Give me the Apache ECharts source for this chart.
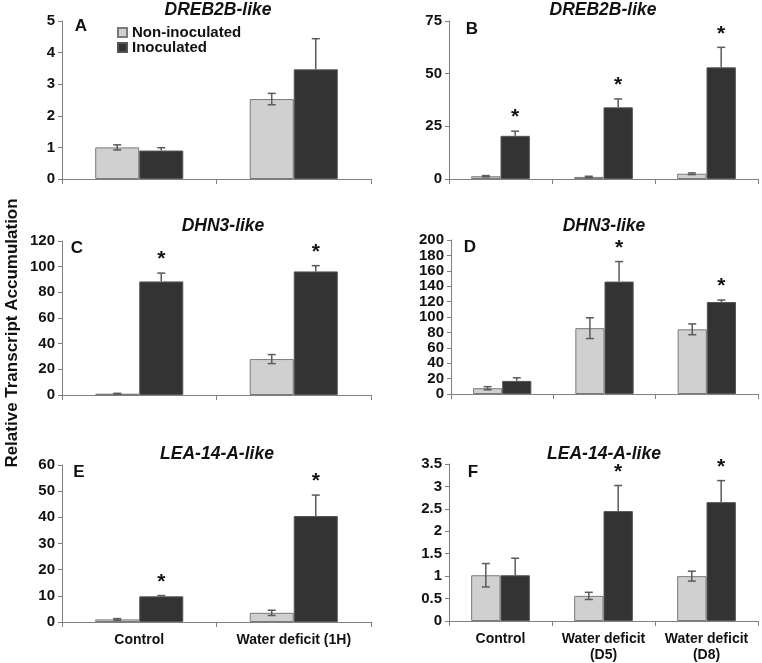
<!DOCTYPE html>
<html>
<head>
<meta charset="utf-8">
<script src="https://cdn.jsdelivr.net/npm/echarts@6/dist/echarts.min.js"></script>
<style>html,body{margin:0;padding:0;background:#fff}#c{width:762px;height:663px}</style>
</head>
<body>
<div id="c"></div>
<script>
// ---- Data ----
const cats2 = ['Control', 'Water deficit (1H)'];
const cats3 = ['Control', 'Water deficit\n(D5)', 'Water deficit\n(D8)'];
const seriesNames = ['Non-inoculated', 'Inoculated'];
const geneTitles = ['DREB2B-like', 'DREB2B-like', 'DHN3-like', 'DHN3-like', 'LEA-14-A-like', 'LEA-14-A-like'];
const panelLetters = ['A', 'B', 'C', 'D', 'E', 'F'];

// Panel A
const nonA = [1.0, 2.53];   const nonAErr = [0.08, 0.18];
const inocA = [0.9, 3.47];  const inocAErr = [0.09, 0.97];
const sigA = [0, 0];
// Panel B
const nonB = [1.3, 1.0, 2.5];   const nonBErr = [0.3, 0.3, 0.4];
const inocB = [20.5, 34, 53];   const inocBErr = [2.2, 4, 9.5];
const sigB = [1, 1, 1];
// Panel C
const nonC = [1.0, 28];     const nonCErr = [0.3, 3.5];
const inocC = [88.5, 96.3]; const inocCErr = [6.5, 4.5];
const sigC = [1, 1];
// Panel D
const nonD = [7.5, 85.5, 84];   const nonDErr = [2, 13.5, 7];
const inocD = [17, 146, 119.5]; const inocDErr = [4, 26, 2.5];
const sigD = [0, 1, 1];
// Panel E
const nonE = [1.0, 3.5];    const nonEErr = [0.3, 1.0];
const inocE = [9.8, 40.5];  const inocEErr = [0.3, 8];
const sigE = [1, 1];
// Panel F
const nonF = [1.02, 0.56, 1.0];  const nonFErr = [0.26, 0.08, 0.11];
const inocF = [1.02, 2.45, 2.65]; const inocFErr = [0.38, 0.57, 0.48];
const sigF = [0, 1, 1];

// y-axis ranges
const yMax = [5, 75, 120, 200, 60, 3.5];
const yInt = [1, 25, 20, 20, 10, 0.5];

// ---- Layout ----
const grids = [
  {left: 62, top: 21, width: 309, height: 158},
  {left: 449, top: 21, width: 309, height: 158},
  {left: 62, top: 241, width: 309, height: 154},
  {left: 451, top: 240, width: 307, height: 154},
  {left: 62, top: 465, width: 309, height: 157},
  {left: 449, top: 464, width: 309, height: 158}
];
const panels = [
  {cats: cats2, non: nonA, nonE: nonAErr, inoc: inocA, inocE: inocAErr, sig: sigA, showX: false},
  {cats: cats3, non: nonB, nonE: nonBErr, inoc: inocB, inocE: inocBErr, sig: sigB, showX: false},
  {cats: cats2, non: nonC, nonE: nonCErr, inoc: inocC, inocE: inocCErr, sig: sigC, showX: false},
  {cats: cats3, non: nonD, nonE: nonDErr, inoc: inocD, inocE: inocDErr, sig: sigD, showX: false},
  {cats: cats2, non: nonE, nonE: nonEErr, inoc: inocE, inocE: inocEErr, sig: sigE, showX: true},
  {cats: cats3, non: nonF, nonE: nonFErr, inoc: inocF, inocE: inocFErr, sig: sigF, showX: true}
];

const GAP = 0.43;
const LIGHT = '#d0d0d0', DARK = '#333333';
const AXIS_COLOR = '#808080';
const ERR_COLOR = '#5a5a5a';

function errRender(side, full) {
  return function (params, api) {
    const ci = api.value(0), mean = api.value(1), err = api.value(2), sig = api.value(3);
    const band = api.size([1, 0])[0];
    const bw = band * (1 - GAP) / 2;
    const center = api.coord([ci, 0])[0];
    const x = center + side * bw / 2;
    const yTop = api.coord([ci, mean + err])[1];
    const yMid = api.coord([ci, mean])[1];
    const yLow = api.coord([ci, mean - err])[1];
    const cap = 4;
    const st = {stroke: ERR_COLOR, lineWidth: 1.5};
    const children = [
      {type: 'line', shape: {x1: x, y1: full ? yLow : yMid, x2: x, y2: yTop}, style: st},
      {type: 'line', shape: {x1: x - cap, y1: yTop, x2: x + cap, y2: yTop}, style: st}
    ];
    if (full) children.push({type: 'line', shape: {x1: x - cap, y1: yLow, x2: x + cap, y2: yLow}, style: st});
    if (sig) {
      children.push({type: 'text', style: {text: '*', x: x, y: yTop - 3, align: 'center', verticalAlign: 'bottom',
        textAlign: 'center', textVerticalAlign: 'bottom', font: 'bold 21px Arial, "Liberation Sans"', fill: '#111'}});
    }
    return {type: 'group', children: children};
  };
}

const gridOpts = [], xAxes = [], yAxes = [], series = [];
panels.forEach((p, i) => {
  gridOpts.push(Object.assign({containLabel: false}, grids[i]));
  xAxes.push({
    type: 'category', gridIndex: i, data: p.cats,
    axisLine: {lineStyle: {color: AXIS_COLOR, width: 1}},
    axisTick: {show: true, length: 5, lineStyle: {color: AXIS_COLOR}},
    axisLabel: {show: p.showX, color: '#111', fontWeight: 'bold', fontSize: 14, fontFamily: 'Arial, "Liberation Sans"', lineHeight: 16, margin: 10, interval: 0},
    splitLine: {show: false}
  });
  yAxes.push({
    type: 'value', gridIndex: i, min: 0, max: yMax[i], interval: yInt[i],
    axisLine: {show: true, lineStyle: {color: AXIS_COLOR, width: 1}},
    axisTick: {show: true, length: 4, lineStyle: {color: AXIS_COLOR}},
    axisLabel: {color: '#111', fontWeight: 'bold', fontSize: 15, fontFamily: 'Arial, "Liberation Sans"', margin: 7},
    splitLine: {show: false}
  });
  series.push({
    name: seriesNames[0], type: 'bar', xAxisIndex: i, yAxisIndex: i, data: p.non,
    barGap: '0%', barCategoryGap: (GAP * 100) + '%',
    itemStyle: {color: LIGHT, borderColor: '#7a7a7a', borderWidth: 1}, silent: true
  });
  series.push({
    name: seriesNames[1], type: 'bar', xAxisIndex: i, yAxisIndex: i, data: p.inoc,
    barGap: '0%', barCategoryGap: (GAP * 100) + '%',
    itemStyle: {color: DARK, borderColor: '#555555', borderWidth: 1}, silent: true
  });
  series.push({
    type: 'custom', xAxisIndex: i, yAxisIndex: i, z: 5, silent: true,
    renderItem: errRender(-1, true),
    data: p.non.map((v, k) => [k, v, p.nonE[k], 0])
  });
  series.push({
    type: 'custom', xAxisIndex: i, yAxisIndex: i, z: 5, silent: true,
    renderItem: errRender(1, false),
    data: p.inoc.map((v, k) => [k, v, p.inocE[k], p.sig[k]])
  });
});

const titlePos = [[218, 10], [603, 10], [223, 226], [604, 226], [217, 454], [604, 454]];
const letterPos = [[81, 26], [472, 29], [77, 248], [470, 247], [79, 472], [473, 472]];
const graphics = [];
geneTitles.forEach((t, i) => {
  graphics.push({type: 'text', x: titlePos[i][0], y: titlePos[i][1],
    style: {text: t, font: 'italic bold 17.5px Arial, "Liberation Sans"', fill: '#111', textAlign: 'center', textVerticalAlign: 'middle', align: 'center', verticalAlign: 'middle'}});
  graphics.push({type: 'text', x: letterPos[i][0], y: letterPos[i][1],
    style: {text: panelLetters[i], font: 'bold 17px Arial, "Liberation Sans"', fill: '#111', textAlign: 'center', textVerticalAlign: 'middle', align: 'center', verticalAlign: 'middle'}});
});
graphics.push({type: 'text', x: 12, y: 333, rotation: Math.PI / 2,
  style: {text: 'Relative Transcript Accumulation', font: 'bold 17px Arial, "Liberation Sans"', fill: '#111', textAlign: 'center', textVerticalAlign: 'middle', align: 'center', verticalAlign: 'middle'}});

const chart = echarts.init(document.getElementById('c'), null, {renderer: 'canvas'});
chart.setOption({
  animation: false,
  backgroundColor: '#fff',
  legend: {
    data: seriesNames, orient: 'vertical', left: 112, top: 20, icon: 'rect',
    itemWidth: 9, itemHeight: 9, itemGap: 0, selectedMode: false,
    textStyle: {color: '#111', fontWeight: 'bold', fontSize: 15, fontFamily: 'Arial, "Liberation Sans"', lineHeight: 14}
  },
  grid: gridOpts, xAxis: xAxes, yAxis: yAxes, series: series, graphic: graphics
});
</script>
</body>
</html>
